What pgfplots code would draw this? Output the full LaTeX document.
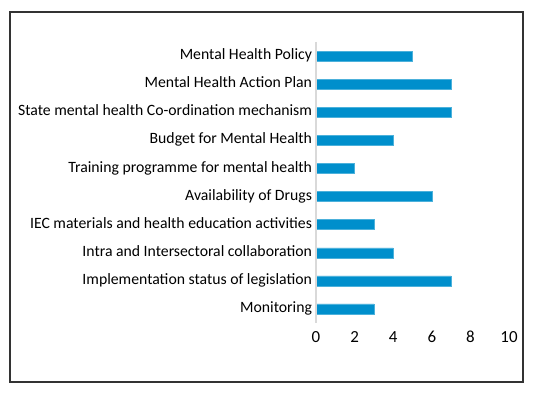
\documentclass[border=0pt]{standalone}
\usepackage{fontspec}
\setmainfont{Carlito}[Numbers=Lining]
\usepackage{pgfplots}
\pgfplotsset{compat=1.18}
\definecolor{barblue}{RGB}{0,143,204}
\definecolor{axgray}{RGB}{217,217,217}
\begin{document}
\begin{tikzpicture}[x=1bp,y=1bp]
\useasboundingbox (0,0) rectangle (534,392);
\fill[white] (0,0) rectangle (534,392);
\draw[black!80, line width=1.3bp] (10,10) rectangle (523,380);
\begin{axis}[
  at={(316bp,69bp)}, anchor=south west,
  scale only axis,
  width=193bp, height=281bp,
  xmin=0, xmax=10,
  ymin=-0.5, ymax=9.5,
  y dir=reverse,
  xtick={0,2,4,6,8,10},
  ytick={0,1,2,3,4,5,6,7,8,9},
  yticklabels={Mental Health Policy,Mental Health Action Plan,State mental health Co-ordination mechanism,Budget for Mental Health,Training programme for mental health,Availability of Drugs,IEC materials and health education activities,Intra and Intersectoral collaboration,Implementation status of legislation,Monitoring},
  major tick length=0pt,
  axis line style={draw=none},
  tick label style={font=\fontsize{15.8}{18}\selectfont, text=black},
  typeset ticklabels with strut,
  /pgf/number format/assume math mode=true,
  yticklabel style={xshift=-0.5bp},
  xticklabel style={font=\fontsize{17}{19}\selectfont, yshift=-2.5bp},
  clip=false,
]
\addplot[xbar, bar width=10bp, fill=barblue, draw=barblue!70!white, line width=0.5bp] coordinates {
 (5,0) (7,1) (7,2) (4,3) (2,4) (6,5) (3,6) (4,7) (7,8) (3,9)
};
\draw[axgray, line width=2bp] (axis cs:0,-0.5) -- (axis cs:0,9.5);
\end{axis}
\end{tikzpicture}
\end{document}
